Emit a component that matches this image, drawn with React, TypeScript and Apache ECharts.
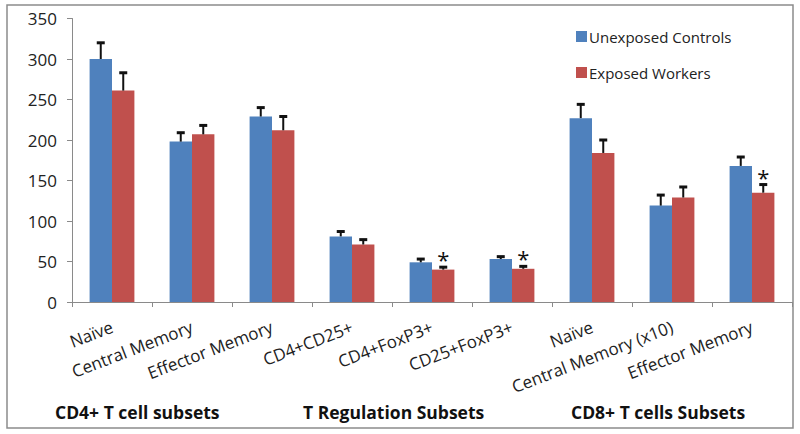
import React, { useEffect, useRef } from "react";
import * as echarts from "echarts";

const categories = [
  "Naïve",
  "Central Memory",
  "Effector Memory",
  "CD4+CD25+",
  "CD4+FoxP3+",
  "CD25+FoxP3+",
  "Naïve",
  "Central Memory (x10)",
  "Effector Memory",
];
const unexposed = [300, 198, 229, 81, 49, 53, 227, 119, 168];
const unexposedSE = [20, 11, 11, 6, 4, 3, 17, 13, 11];
const exposed = [261, 207, 212, 71, 40, 41, 184, 129, 135];
const exposedSE = [22, 11, 17, 6, 3, 3, 16, 13, 10];
const exposedSignificant = [0, 0, 0, 0, 1, 1, 0, 0, 1];
const groupLabels = ["CD4+ T cell subsets", "T Regulation Subsets", "CD8+ T cells Subsets"];
const yTicks = { min: 0, max: 350, interval: 50 };

const BLUE = "#4F81BD";
const RED = "#C0504D";
const FONT = "'Open Sans', Lato, sans-serif";

function errorSeries(name: string, values: number[], se: number[], sig: number[], side: number) {
  return {
    name: name + " error",
    type: "custom",
    silent: true,
    z: 5,
    data: values.map((v, i) => [i, v, v + se[i], sig[i]]),
    renderItem: (params: any, api: any) => {
      const i = api.value(0);
      const v = api.value(1);
      const top = api.value(2);
      const s = api.value(3);
      const band = api.size([1, 0])[0];
      const base = api.coord([i, v]);
      const x = base[0] + side * band * 0.1406;
      const yBar = base[1];
      const yTop = api.coord([i, top])[1];
      const children: any[] = [
        { type: "line", shape: { x1: x, y1: yBar, x2: x, y2: yTop }, style: { stroke: "#111", lineWidth: 2 } },
        { type: "line", shape: { x1: x - 4, y1: yTop, x2: x + 4, y2: yTop }, style: { stroke: "#111", lineWidth: 3 } },
      ];
      if (s) {
        children.push({
          type: "text",
          x: x,
          y: yTop - 8,
          style: { text: "*", font: "22px " + FONT, fill: "#111", align: "center", verticalAlign: "middle" },
        });
      }
      return { type: "group", children };
    },
  };
}

export default function App() {
  const ref = useRef<HTMLDivElement>(null);
  useEffect(() => {
    document.body.style.margin = "0";
    const chart = echarts.init(ref.current!, null, { renderer: "svg" });
    chart.setOption({
      animation: false,
      backgroundColor: "#fff",
      textStyle: { fontFamily: FONT },
      grid: { left: 72, top: 18.5, width: 720, height: 283.5, containLabel: false },
      legend: {
        orient: "vertical",
        left: 571,
        top: 24,
        itemGap: 21,
        itemWidth: 11,
        itemHeight: 11,
        icon: "rect",
        data: ["Unexposed Controls", "Exposed Workers"],
        textStyle: { fontSize: 15, color: "#222", fontFamily: FONT, padding: [0, 0, 0, -3] },
      },
      xAxis: {
        type: "category",
        data: categories,
        axisLine: { lineStyle: { color: "#8a8a8a", width: 1 } },
        axisTick: { show: true, length: 5, lineStyle: { color: "#8a8a8a" } },
        axisLabel: { interval: 0, rotate: 21, margin: 24, fontSize: 17, color: "#222", fontFamily: FONT },
      },
      yAxis: {
        type: "value",
        min: yTicks.min,
        max: yTicks.max,
        interval: yTicks.interval,
        splitLine: { show: false },
        axisLine: { show: true, lineStyle: { color: "#8a8a8a", width: 1 } },
        axisTick: { show: true, length: 5, lineStyle: { color: "#8a8a8a" } },
        axisLabel: { fontSize: 17, color: "#222", margin: 15, fontFamily: FONT },
      },
      series: [
        {
          name: "Unexposed Controls",
          type: "bar",
          data: unexposed,
          itemStyle: { color: BLUE },
          barGap: "0%",
          barCategoryGap: "44%",
        },
        {
          name: "Exposed Workers",
          type: "bar",
          data: exposed,
          itemStyle: { color: RED },
          barGap: "0%",
          barCategoryGap: "44%",
        },
        errorSeries("Unexposed Controls", unexposed, unexposedSE, unexposed.map(() => 0), -1),
        errorSeries("Exposed Workers", exposed, exposedSE, exposedSignificant, 1),
      ],
      graphic: [
        {
          type: "rect",
          shape: { x: 7, y: 5, width: 786, height: 423 },
          style: { fill: "none", stroke: "#8c8c8c", lineWidth: 1.5 },
          silent: true,
        },
        ...groupLabels.map((t, k) => ({
          type: "text",
          left: [55, 303, 571][k],
          top: 403,
          style: { text: t, font: "bold 17.5px " + FONT, fill: "#111" },
        })),
      ],
    });
    return () => chart.dispose();
  }, []);
  return <div ref={ref} style={{ width: 800, height: 434 }} />;
}
